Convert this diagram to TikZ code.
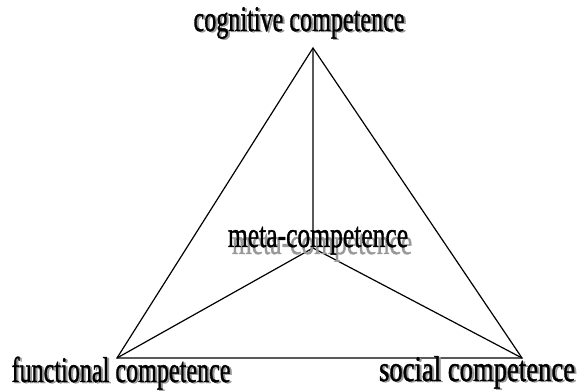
\documentclass[tikz,border=0pt]{standalone}
\usepackage{fontspec}
\setmainfont{Liberation Serif}
\newfontfamily\compfont{Liberation Serif}[FakeBold=1.2]
\usetikzlibrary{calc}
\tikzset{comp/.style={font=\compfont\fontsize{27}{27}\selectfont, anchor=base, inner sep=0pt},
	compshade/.style={comp, text=black!40}}
\newcommand{\narrowtext}[2]{\scalebox{#1}[1]{#2}}

\begin{document}
\begin{tikzpicture}[x=0.75pt,y=-0.75pt]
\useasboundingbox (0,0) rectangle (578,391);
%corners
\coordinate (cog) at (313,48);
\coordinate (fun) at (117,358);
\coordinate (soc) at (522,358);
\coordinate (meta) at (313,248);
%triangle
\draw[line width=0.9pt] (cog) -- (fun) -- (soc) -- cycle;
\draw[line width=0.9pt] (cog) -- (meta)
	(fun) -- (meta) -- (soc);
%labels
\path (301,32) node[compshade] (cogS) {\narrowtext{0.67}{cognitive competence}};
\path (299,31) node[comp] (cogL) {\narrowtext{0.67}{cognitive competence}};
\path (322,254) node[compshade] (metaS) {\narrowtext{0.71}{meta-competence}};
\path (318,247) node[comp] (metaL) {\narrowtext{0.71}{meta-competence}};
\path (123,383) node[compshade] (funS) {\narrowtext{0.67}{functional competence}};
\path (121,382) node[comp] (funL) {\narrowtext{0.67}{functional competence}};
\path (479,382) node[compshade] (socS) {\narrowtext{0.74}{social competence}};
\path (477,381) node[comp] (socL) {\narrowtext{0.74}{social competence}};
\end{tikzpicture}
\end{document}
